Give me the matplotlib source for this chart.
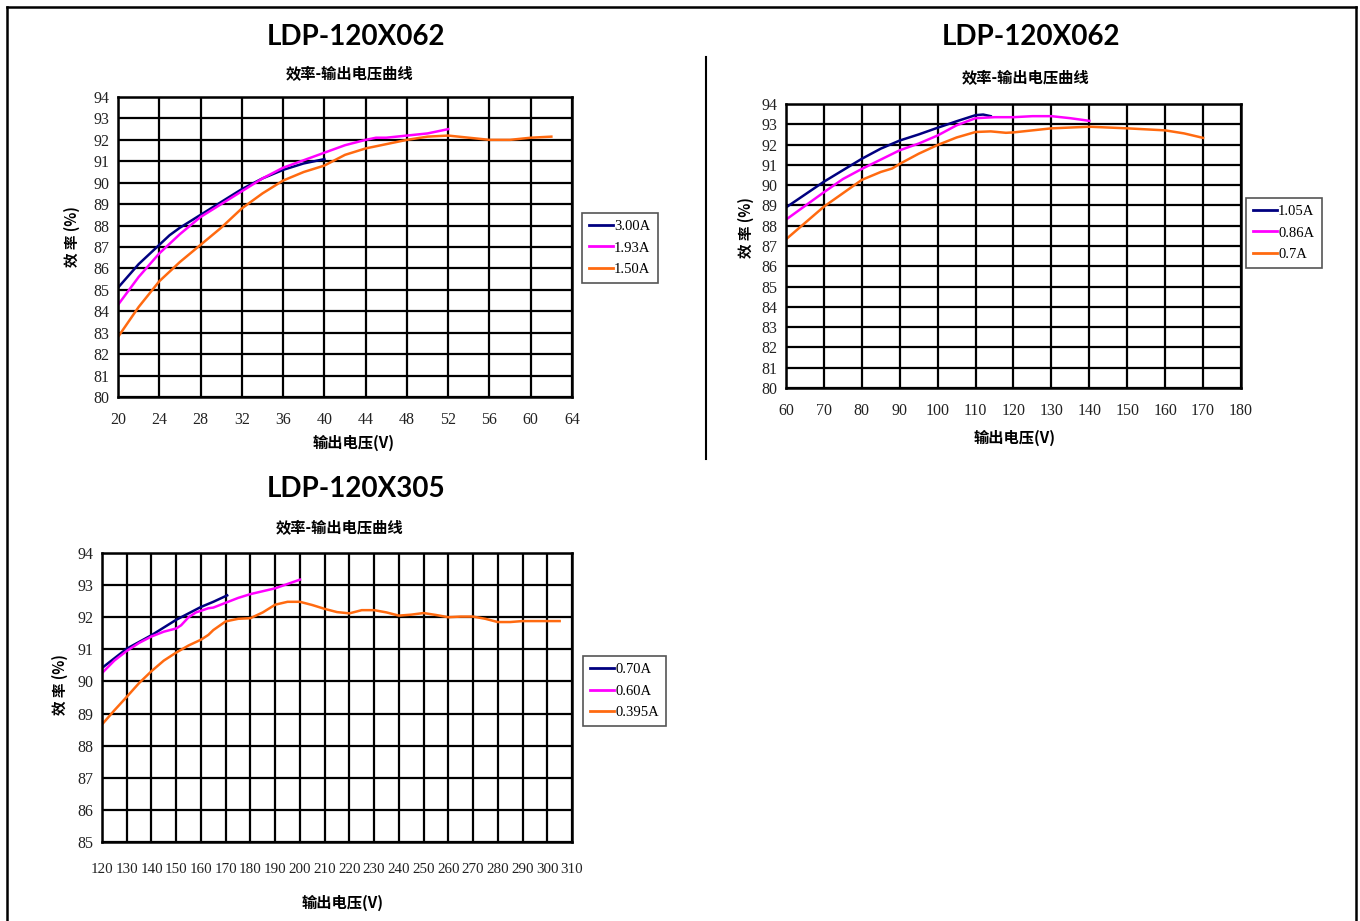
import matplotlib
matplotlib.use("Agg")
import matplotlib.pyplot as plt
from matplotlib.lines import Line2D
import numpy as np

plt.rcParams['font.family'] = ['Liberation Serif', 'Noto Sans CJK SC', 'DejaVu Sans']

W, H = 1360, 921
CJK = ['Noto Sans CJK SC', 'DejaVu Sans']

# ---------------- data ----------------
# Chart 1: LDP-120X062 (low voltage)
c1_x_300 = [20, 22, 24, 25, 26, 28, 30, 32, 34, 36, 38, 40]
c1_y_300 = [85.1, 86.2, 87.1, 87.55, 87.9, 88.5, 89.1, 89.7, 90.2, 90.6, 90.9, 91.1]
c1_x_193 = [20, 22, 24, 26, 28, 30, 32, 34, 36, 38, 40, 42, 44, 45, 46, 48, 50, 52]
c1_y_193 = [84.3, 85.6, 86.7, 87.6, 88.4, 89.0, 89.6, 90.2, 90.7, 91.05, 91.4, 91.75, 92.0, 92.1, 92.1, 92.2, 92.3, 92.5]
c1_x_150 = [20, 22, 24, 26, 28, 30, 32, 34, 36, 37, 38, 40, 42, 44, 46, 48, 50, 52, 54, 56, 58, 60, 62]
c1_y_150 = [82.8, 84.2, 85.4, 86.3, 87.1, 87.9, 88.8, 89.5, 90.1, 90.3, 90.5, 90.8, 91.3, 91.6, 91.8, 92.0, 92.15, 92.2, 92.1, 92.0, 92.0, 92.1, 92.15]
c1_labels = ['3.00A', '1.93A', '1.50A']
c1_xticks = [20, 24, 28, 32, 36, 40, 44, 48, 52, 56, 60, 64]
c1_yticks = list(range(80, 95))

# Chart 2: LDP-120X062 (high voltage)
c2_x_105 = [60, 70, 80, 85, 90, 95, 100, 105, 110, 112, 114]
c2_y_105 = [88.9, 90.17, 91.3, 91.8, 92.2, 92.5, 92.83, 93.15, 93.45, 93.48, 93.4]
c2_x_086 = [60, 70, 75, 80, 90, 95, 100, 103, 105, 110, 115, 120, 125, 130, 135, 140]
c2_y_086 = [88.3, 89.65, 90.3, 90.8, 91.72, 92.05, 92.45, 92.75, 92.95, 93.3, 93.35, 93.35, 93.4, 93.4, 93.3, 93.17]
c2_x_070 = [60, 70, 80, 85, 88, 90, 95, 100, 105, 110, 114, 118, 120, 130, 140, 150, 160, 165, 170]
c2_y_070 = [87.33, 88.94, 90.26, 90.65, 90.82, 91.05, 91.55, 91.98, 92.35, 92.62, 92.65, 92.58, 92.6, 92.8, 92.88, 92.8, 92.7, 92.55, 92.33]
c2_labels = ['1.05A', '0.86A', '0.7A']
c2_xticks = list(range(60, 181, 10))
c2_yticks = list(range(80, 95))

# Chart 3: LDP-120X305
c3_x_070 = [120, 130, 140, 150, 155, 160, 165, 170.6]
c3_y_070 = [90.42, 91.02, 91.44, 91.92, 92.12, 92.32, 92.48, 92.68]
c3_x_060 = [120, 125, 130, 135, 140, 145, 150, 152, 155, 158, 160, 163, 165, 170, 175, 180, 190, 200]
c3_y_060 = [90.26, 90.65, 90.95, 91.2, 91.4, 91.55, 91.65, 91.75, 92.0, 92.15, 92.2, 92.28, 92.3, 92.45, 92.6, 92.72, 92.9, 93.17]
c3_x_0395 = [120, 125, 130, 135, 140, 145, 150, 155, 160, 163, 165, 170, 175, 180, 185, 190, 195, 200,
             205, 210, 215, 220, 225, 230, 235, 240, 245, 250, 255, 260, 265, 270, 275, 280, 285, 290, 295, 300, 305]
c3_y_0395 = [88.66, 89.1, 89.52, 89.95, 90.32, 90.65, 90.9, 91.12, 91.3, 91.45, 91.6, 91.87, 91.95, 91.97, 92.15, 92.39, 92.48, 92.48,
             92.38, 92.26, 92.16, 92.12, 92.22, 92.22, 92.15, 92.05, 92.08, 92.13, 92.07, 92.0, 92.02, 92.02, 91.95, 91.85, 91.85, 91.88, 91.88, 91.88, 91.88]
c3_labels = ['0.70A', '0.60A', '0.395A']
c3_xticks = list(range(120, 311, 10))
c3_yticks = list(range(85, 95))

title_text = 'LDP-120X062'
title3_text = 'LDP-120X305'
subtitle_text = '效率-输出电压曲线'
xlabel_text = '输出电压(V)'
ylabel_text = '效 率 (%)'

NAVY = '#000080'
MAG = '#FF00FF'
ORG = '#FF6A10'
colors = [NAVY, MAG, ORG]

fig = plt.figure(figsize=(W / 100, H / 100), dpi=100)


def fx(px):
    return px / W


def fy(py):
    return 1 - py / H


def make_axes(l, t, r, b):
    return fig.add_axes([fx(l), fy(b), fx(r) - fx(l), fy(t) - fy(b)])


def style(ax, xticks, yticks, xlim, ylim, xsize=11.5, ysize=11.5):
    ax.set_xlim(*xlim)
    ax.set_ylim(*ylim)
    ax.set_xticks(xticks)
    ax.set_yticks(yticks)
    ax.grid(True, color='black', lw=1.6)
    ax.set_axisbelow(True)
    for s in ax.spines.values():
        s.set_color('black')
        s.set_linewidth(1.8)
    ax.tick_params(length=0, colors='#222222')
    ax.tick_params(axis='y', pad=6, labelsize=ysize)
    ax.tick_params(axis='x', pad=11, labelsize=xsize)


def add_legend(ax, labels, cx, cy):
    handles = [Line2D([0], [0], color=c, lw=2) for c in colors]
    leg = ax.legend(handles, labels, loc='center left', bbox_to_anchor=(fx(cx), fy(cy)),
                    bbox_transform=fig.transFigure, frameon=True, fancybox=False,
                    edgecolor='#555555', framealpha=1, fontsize=10.5,
                    handlelength=1.6, handletextpad=0.1, borderpad=0.5,
                    labelspacing=0.55, borderaxespad=0)
    leg.get_frame().set_linewidth(1.2)


# ---------- Chart 1 ----------
ax1 = make_axes(118, 97, 572, 397)
style(ax1, c1_xticks, c1_yticks, (20, 64), (80, 94))
ax1.plot(c1_x_300, c1_y_300, color=NAVY, lw=1.8)
ax1.plot(c1_x_193, c1_y_193, color=MAG, lw=1.8)
ax1.plot(c1_x_150, c1_y_150, color=ORG, lw=1.8)
add_legend(ax1, c1_labels, 582, 248)
fig.text(fx(356), fy(37), title_text, family='Lato', weight='bold', fontsize=20, ha='center', va='center')
fig.text(fx(350), fy(74), subtitle_text, family=CJK, weight='bold', fontsize=11, ha='center', va='center')
fig.text(fx(354), fy(443), xlabel_text, family=CJK, weight='bold', fontsize=11, ha='center', va='center')
fig.text(fx(72), fy(237), ylabel_text, family=CJK, weight='bold', fontsize=10.5, ha='center', va='center', rotation=90)

# ---------- Chart 2 ----------
ax2 = make_axes(786, 104, 1241, 388)
style(ax2, c2_xticks, c2_yticks, (60, 180), (80, 94))
ax2.plot(c2_x_105, c2_y_105, color=NAVY, lw=1.8)
ax2.plot(c2_x_086, c2_y_086, color=MAG, lw=1.8)
ax2.plot(c2_x_070, c2_y_070, color=ORG, lw=1.8)
add_legend(ax2, c2_labels, 1246, 233)
fig.text(fx(1031), fy(37), title_text, family='Lato', weight='bold', fontsize=20, ha='center', va='center')
fig.text(fx(1026), fy(78), subtitle_text, family=CJK, weight='bold', fontsize=11, ha='center', va='center')
fig.text(fx(1015), fy(438), xlabel_text, family=CJK, weight='bold', fontsize=11, ha='center', va='center')
fig.text(fx(746), fy(228), ylabel_text, family=CJK, weight='bold', fontsize=10.5, ha='center', va='center', rotation=90)

# ---------- Chart 3 ----------
ax3 = make_axes(102, 553, 572, 842)
style(ax3, c3_xticks, c3_yticks, (120, 310), (85, 94), xsize=10.8, ysize=11.5)
ax3.plot(c3_x_070, c3_y_070, color=NAVY, lw=1.8)
ax3.plot(c3_x_060, c3_y_060, color=MAG, lw=1.8)
ax3.plot(c3_x_0395, c3_y_0395, color=ORG, lw=1.8)
add_legend(ax3, c3_labels, 583, 691)
ax3.tick_params(axis='x', pad=15)
fig.text(fx(356), fy(489), title3_text, family='Lato', weight='bold', fontsize=20, ha='center', va='center')
fig.text(fx(340), fy(528), subtitle_text, family=CJK, weight='bold', fontsize=11, ha='center', va='center')
fig.text(fx(343), fy(903), xlabel_text, family=CJK, weight='bold', fontsize=11, ha='center', va='center')
fig.text(fx(60), fy(685), ylabel_text, family=CJK, weight='bold', fontsize=10.5, ha='center', va='center', rotation=90)

# ---------- page frame & divider ----------
fig.add_artist(Line2D([fx(7), fx(7)], [fy(7), 0], color='black', lw=1.8, transform=fig.transFigure))
fig.add_artist(Line2D([fx(7), fx(1356)], [fy(7), fy(7)], color='black', lw=1.8, transform=fig.transFigure))
fig.add_artist(Line2D([fx(1356), fx(1356)], [fy(7), 0], color='black', lw=1.8, transform=fig.transFigure))
fig.add_artist(Line2D([fx(706), fx(706)], [fy(57), fy(459)], color='black', lw=1.5, transform=fig.transFigure))

fig.savefig('out.png', dpi=100, facecolor='white')
